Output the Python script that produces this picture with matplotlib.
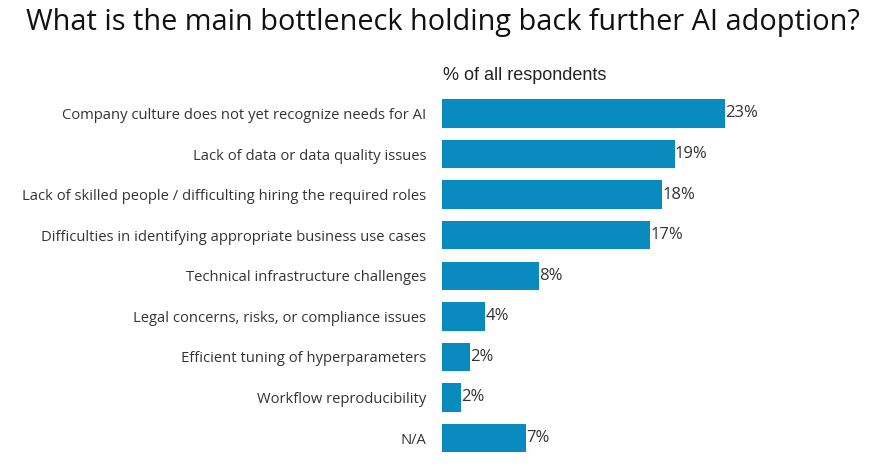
import matplotlib.pyplot as plt

categories = [
    "Company culture does not yet recognize needs for AI",
    "Lack of data or data quality issues",
    "Lack of skilled people / difficulting hiring the required roles",
    "Difficulties in identifying appropriate business use cases",
    "Technical infrastructure challenges",
    "Legal concerns, risks, or compliance issues",
    "Efficient tuning of hyperparameters",
    "Workflow reproducibility",
    "N/A",
]
values = [23.0, 18.9, 17.9, 16.9, 7.9, 3.5, 2.3, 1.55, 6.8]
value_labels = ["23%", "19%", "18%", "17%", "8%", "4%", "2%", "2%", "7%"]

fig = plt.figure(figsize=(8.73, 4.73), dpi=100)
ax = fig.add_axes([0.506, 0.031, 0.4235, 0.772])

pos = list(range(len(categories)))
ax.barh(pos, values, height=0.7, color="#0a8bc0")
ax.set_xlim(0, 30)
ax.set_ylim(8.5, -0.5)

# value labels right after each bar
for p, v, lab in zip(pos, values, value_labels):
    ax.text(v + 0.03, p, lab, va="center", ha="left", fontsize=12,
            family="Open Sans", color="#333333")

ax.set_yticks(pos)
ax.set_yticklabels(categories, family="Open Sans", fontsize=10.6, color="#333333")
ax.tick_params(axis="y", length=0, pad=11)
ax.set_xticks([])
for s in ax.spines.values():
    s.set_visible(False)

fig.text(0.507, 0.953, "What is the main bottleneck holding back further AI adoption?",
         ha="center", va="center", fontsize=20.8, family="Open Sans", color="#111111")
fig.text(0.507, 0.84, "% of all respondents", ha="left", va="center",
         fontsize=13, family="Liberation Sans", color="#222222")

fig.savefig("out.png", dpi=100)
